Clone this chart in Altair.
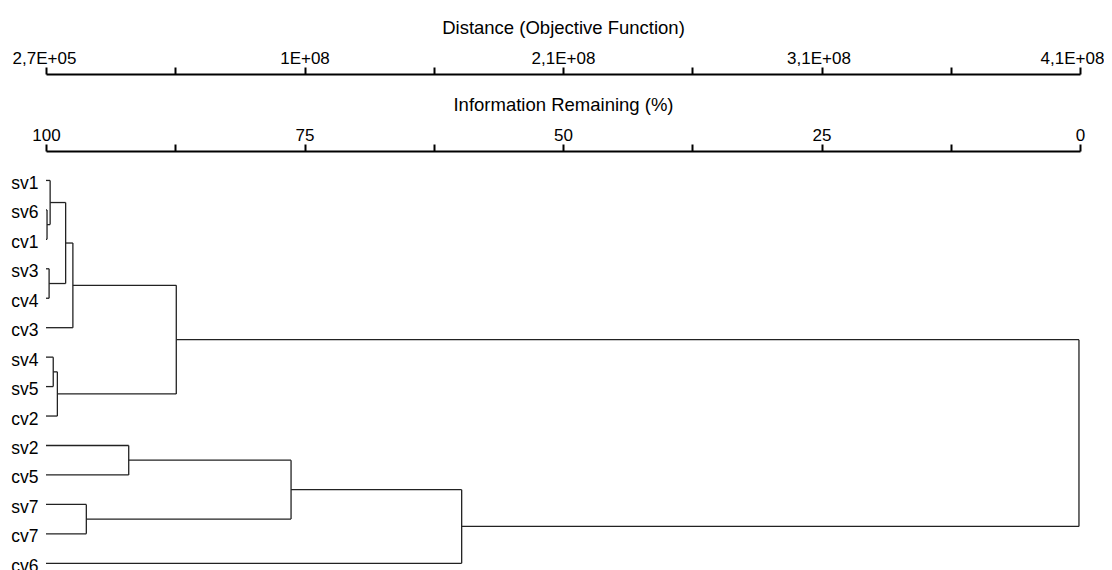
import altair as alt
import pandas as pd

# ---- data ----
leaves = ["sv1", "sv6", "cv1", "sv3", "cv4", "cv3", "sv4", "sv5", "cv2",
          "sv2", "cv5", "sv7", "cv7", "cv6"]
merge_left = ["sv6", "sv1", "sv3", "m2", "m4", "sv4", "m6", "m5", "sv2", "sv7", "m9", "m11", "m8"]
merge_right = ["cv1", "m1", "cv4", "m3", "cv3", "sv5", "cv2", "m7", "cv5", "cv7", "m10", "cv6", "m12"]
merge_info = [99.9, 99.6, 99.7, 98.1, 97.4, 99.3, 98.9, 87.4, 92.0, 96.1, 76.3, 59.8, 0.1]

info_ticks = [100, 87.5, 75, 62.5, 50, 37.5, 25, 12.5, 0]
info_labels = ["100", "", "75", "", "50", "", "25", "", "0"]
dist_min, dist_max = 2.7e5, 4.1e8
dist_labels = ["2,7E+05", "", "1E+08", "", "2,1E+08", "", "3,1E+08", "", "4,1E+08"]

# ---- dendrogram segments ----
pos = {name: (100.0, float(i)) for i, name in enumerate(leaves)}
rows = []
for k, (l, r, h) in enumerate(zip(merge_left, merge_right, merge_info)):
    xl, yl = pos[l]
    xr, yr = pos[r]
    rows.append({"x": xl, "x2": h, "y": yl, "y2": yl})
    rows.append({"x": xr, "x2": h, "y": yr, "y2": yr})
    rows.append({"x": h, "x2": h, "y": yl, "y2": yr})
    pos[f"m{k + 1}"] = (h, (yl + yr) / 2)
seg = pd.DataFrame(rows)

dist_ticks = [dist_min + k * (dist_max - dist_min) / 8 for k in range(9)]

def chain(vals, labs):
    expr = "''"
    for v, s in reversed(list(zip(vals, labs))):
        expr = f"(datum.value == {v!r} ? '{s}' : {expr})"
    return expr

FONT = "Liberation Sans, Arial, sans-serif"
names_js = "[" + ",".join(f"'{n}'" for n in leaves) + "]"

xs = alt.Scale(domain=[0, 100], reverse=True, nice=False, zero=False)
ys = alt.Scale(domain=[-1, 13.5], reverse=True, nice=False, zero=False)

dendro = alt.Chart(seg).mark_rule(color="#222222", strokeWidth=1.3).encode(
    x=alt.X("x:Q", scale=xs,
            axis=alt.Axis(orient="top", values=info_ticks, labelExpr=chain(info_ticks, info_labels),
                          title="Information Remaining (%)")),
    x2="x2:Q",
    y=alt.Y("y:Q", scale=ys,
            axis=alt.Axis(orient="left", values=list(range(len(leaves))),
                          labelExpr=f"{names_js}[datum.value]", domain=False, ticks=False,
                          tickSize=0, labelPadding=8, labelOffset=3, labelFontSize=17.5,
                          title=None)),
    y2="y2:Q",
)

dist_df = pd.DataFrame({"d": [dist_min, dist_max]})
dist_layer = alt.Chart(dist_df).mark_rule(strokeOpacity=0).encode(
    x=alt.X("d:Q", scale=alt.Scale(domain=[dist_min, dist_max], nice=False, zero=False),
            axis=alt.Axis(orient="top", offset=77, values=dist_ticks,
                          labelExpr=chain(dist_ticks, dist_labels),
                          labelOffset={"condition": [
                              {"test": f"datum.value == {dist_ticks[0]!r}", "value": -2},
                              {"test": f"datum.value == {dist_ticks[6]!r}", "value": -3},
                              {"test": f"datum.value == {dist_ticks[8]!r}", "value": -8},
                          ], "value": 0},
                          title="Distance (Objective Function)"))
)

chart = alt.layer(dendro, dist_layer).resolve_scale(x="independent").properties(
    width=1034, height=427,
    autosize=alt.AutoSizeParams(type="none"),
    padding={"left": 38, "top": 143, "right": 24, "bottom": 5},
).configure_view(stroke=None).configure_axis(
    domainColor="black", domainWidth=2, tickColor="black", tickWidth=2, tickSize=7,
    labelColor="black", titleColor="black", labelFont=FONT, titleFont=FONT,
    labelFontSize=17, titleFontSize=18.5, titleFontWeight="normal", grid=False,
    labelPadding=0, titlePadding=12, labelFlush=False, labelOverlap=False,
)

chart.save("out.html", embed_options={"renderer": "svg", "actions": False})
